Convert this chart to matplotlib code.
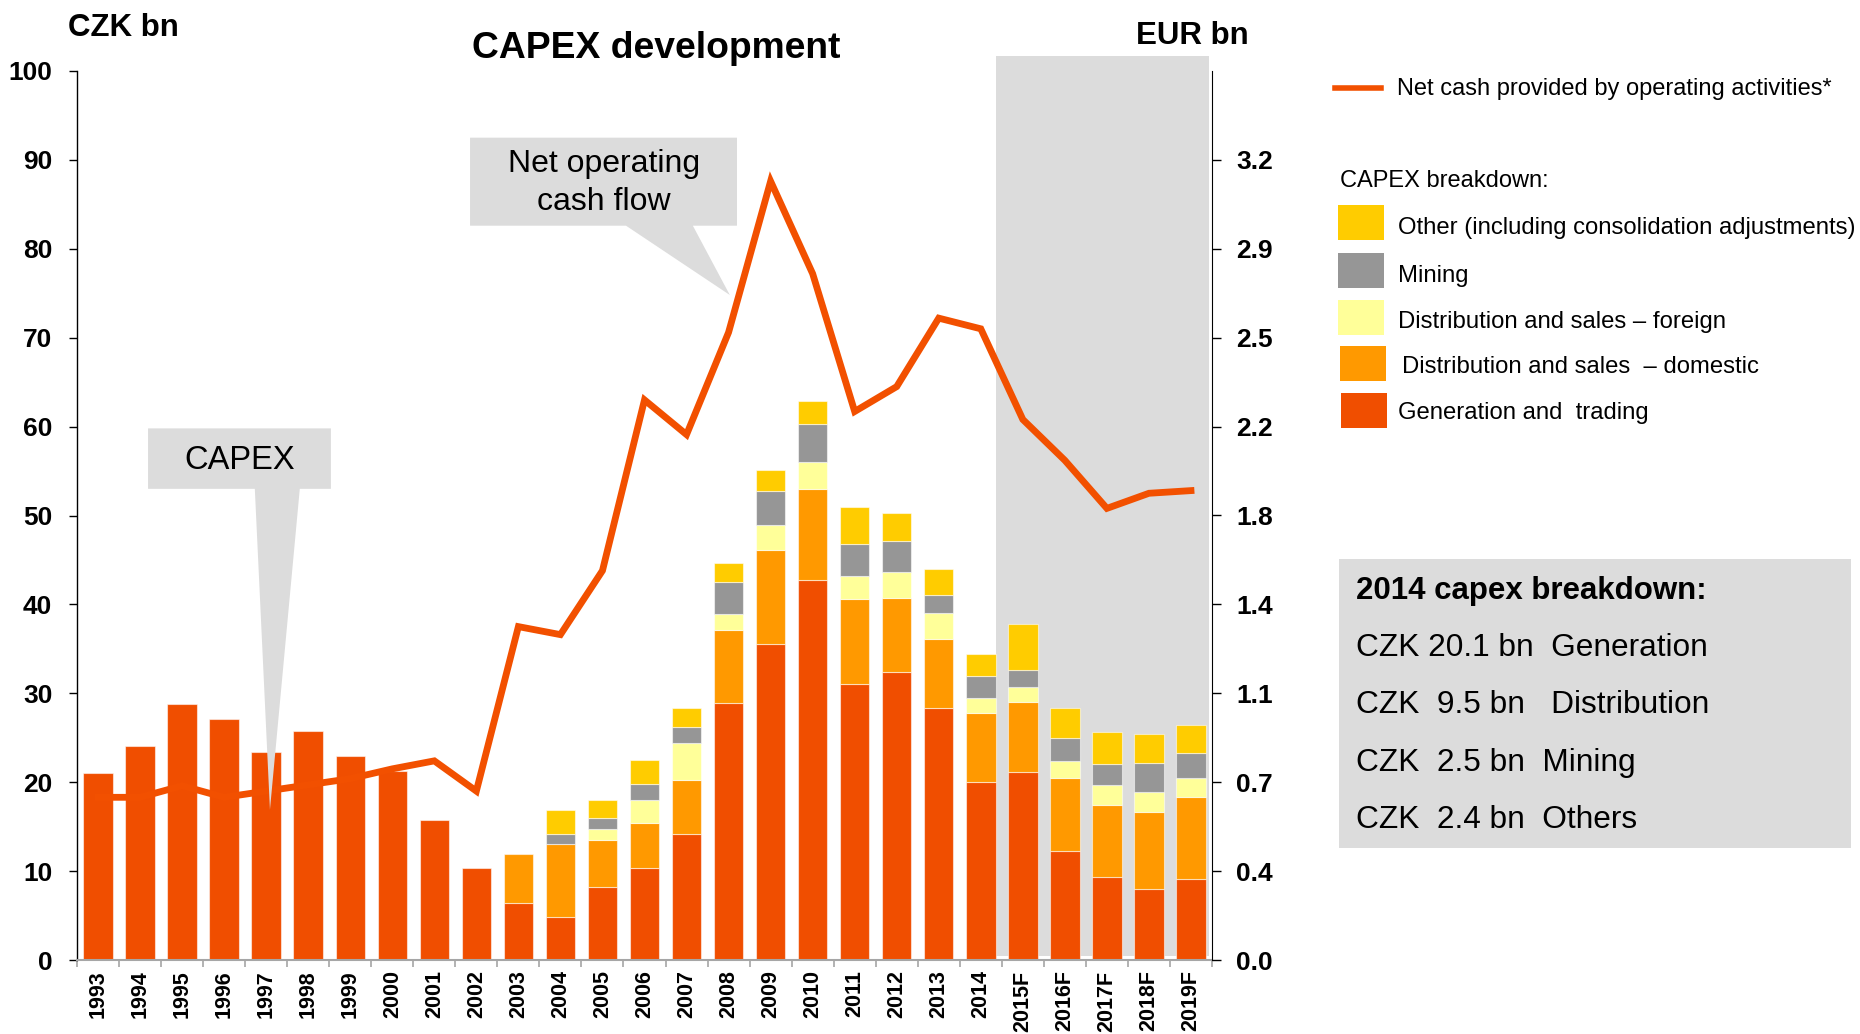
import numpy as np
import matplotlib
matplotlib.use("Agg")
import matplotlib.pyplot as plt
from matplotlib.patches import Polygon, Rectangle
from matplotlib.lines import Line2D

plt.rcParams['font.family'] = ['Liberation Sans', 'DejaVu Sans']

# ---------------- data ----------------
years = ['1993', '1994', '1995', '1996', '1997', '1998', '1999', '2000', '2001', '2002',
         '2003', '2004', '2005', '2006', '2007', '2008', '2009', '2010', '2011', '2012',
         '2013', '2014', '2015F', '2016F', '2017F', '2018F', '2019F']
generation = [21.0, 24.1, 28.8, 27.1, 23.4, 25.8, 23.0, 21.3, 15.7, 10.4,
              6.4, 4.8, 8.2, 10.4, 14.2, 28.9, 35.6, 42.7, 31.0, 32.4,
              28.4, 20.0, 21.1, 12.3, 9.3, 8.0, 9.1]
dist_domestic = [0, 0, 0, 0, 0, 0, 0, 0, 0, 0,
                 5.5, 8.3, 5.3, 5.0, 6.1, 8.2, 10.5, 10.3, 9.6, 8.3,
                 7.7, 7.8, 7.9, 8.2, 8.1, 8.7, 9.2]
dist_foreign = [0, 0, 0, 0, 0, 0, 0, 0, 0, 0,
                0, 0, 1.2, 2.6, 4.1, 1.8, 2.8, 3.0, 2.6, 3.0,
                2.9, 1.7, 1.7, 1.9, 2.3, 2.2, 2.2]
mining = [0, 0, 0, 0, 0, 0, 0, 0, 0, 0,
          0, 1.1, 1.3, 1.8, 1.8, 3.6, 3.9, 4.3, 3.6, 3.4,
          2.1, 2.5, 1.9, 2.6, 2.4, 3.3, 2.8]
other = [0, 0, 0, 0, 0, 0, 0, 0, 0, 0,
         0, 2.7, 2.0, 2.7, 2.1, 2.2, 2.3, 2.6, 4.2, 3.2,
         2.9, 2.4, 5.2, 3.3, 3.5, 3.2, 3.1]
net_cash = [18.3, 18.3, 19.6, 18.3, 19.0, 19.7, 20.4, 21.5, 22.4, 19.0,
            37.5, 36.6, 43.8, 63.0, 59.1, 70.6, 87.6, 77.2, 61.7, 64.5,
            72.2, 71.0, 60.8, 56.2, 50.8, 52.5, 52.8]
EUR_RATE = 27.7
left_ticks = list(range(0, 101, 10))
right_ticks = list(range(0, 91, 10))

series_names = ['Generation and  trading', 'Distribution and sales  \u2013 domestic',
                'Distribution and sales \u2013 foreign', 'Mining',
                'Other (including consolidation adjustments)']
series_vals = [generation, dist_domestic, dist_foreign, mining, other]
series_colors = ['#F04E00', '#FF9900', '#FFFF99', '#969696', '#FFCC00']
line_color = '#F25000'
shade = '#DCDCDC'

box_title = '2014 capex breakdown:'
box_lines = ['CZK 20.1 bn  Generation', 'CZK  9.5 bn   Distribution',
             'CZK  2.5 bn  Mining', 'CZK  2.4 bn  Others']

# ---------------- figure ----------------
W, H = 1860, 1034
fig = plt.figure(figsize=(W / 100, H / 100), dpi=100)


def fx(px):
    return px / W


def fy(py):
    return 1 - py / H


ax = fig.add_axes([fx(77), fy(960), (1212 - 77) / W, (960 - 71) / H])
x = np.arange(len(years))
ax.set_xlim(-0.5, len(years) - 0.5)
ax.set_ylim(0, 100)

# forecast shading
ax.add_patch(Rectangle((21.35, 0.4), 26.42 - 21.35, 101.7 - 0.4, facecolor=shade,
                       edgecolor='none', zorder=0.5, clip_on=False))

# stacked bars
bottom = np.zeros(len(years))
for vals, col in zip(series_vals, series_colors):
    v = np.array(vals, dtype=float)
    m = v > 0
    ax.bar(x[m], v[m], width=0.7, bottom=bottom[m], color=col,
           edgecolor=(1, 1, 1, 0.55), linewidth=0.8, zorder=2)
    bottom += v

# net cash line
ax.plot(x, net_cash, color=line_color, lw=4.9, zorder=3, solid_joinstyle='miter')

# axes styling
for s in ['top', 'right']:
    ax.spines[s].set_visible(False)
ax.spines['left'].set_color('black')
ax.spines['left'].set_linewidth(1.0)
ax.spines['bottom'].set_color('#A6A6A6')
ax.spines['bottom'].set_linewidth(1.5)
ax.spines['bottom'].set_zorder(4)

ax.set_yticks(left_ticks, [str(t) for t in left_ticks], fontsize=19, fontweight='bold')
ax.tick_params(axis='y', length=5.8, width=1.0, pad=12, direction='out')
ax.set_xticks(x, years, rotation=90, fontsize=15.5, fontweight='bold')
ax.tick_params(axis='x', which='major', length=0, pad=7.5)
ax.set_xticks(np.arange(-0.5, len(years), 1), minor=True)
ax.tick_params(axis='x', which='minor', length=5, width=1.2, color='#A6A6A6')

ax2 = ax.twinx()
ax2.set_ylim(0, 100)
ax2.set_yticks(right_ticks, [f"{t / EUR_RATE:.1f}" for t in right_ticks],
               fontsize=19, fontweight='bold')
ax2.tick_params(axis='y', length=6.5, width=1.0, pad=11)
for s in ['top', 'left', 'bottom']:
    ax2.spines[s].set_visible(False)
ax2.spines['right'].set_color('black')

# callouts (in data coordinates)
capex_poly = [(1.19, 59.8), (5.54, 59.8), (5.54, 53.0), (4.80, 53.0), (4.09, 16.9),
              (3.73, 53.0), (1.19, 53.0)]
ax.add_patch(Polygon(capex_poly, closed=True, facecolor=shade, edgecolor='none',
                     zorder=5, clip_on=False))
ax.text(3.37, 56.2, 'CAPEX', fontsize=23.5, ha='center', va='center', zorder=6)

ncf_poly = [(8.85, 92.5), (15.20, 92.5), (15.20, 82.6), (14.15, 82.6), (15.03, 74.8),
            (12.56, 82.6), (8.85, 82.6)]
ax.add_patch(Polygon(ncf_poly, closed=True, facecolor=shade, edgecolor='none',
                     zorder=5, clip_on=False))
ax.text(12.03, 87.4, 'Net operating\ncash flow', fontsize=23, ha='center', va='center',
        linespacing=1.38, zorder=6)

# titles / axis units
fig.text(fx(68), fy(36), 'CZK bn', fontsize=22.5, fontweight='bold', ha='left', va='baseline')
fig.text(fx(656), fy(58), 'CAPEX development', fontsize=26.8, fontweight='bold',
         ha='center', va='baseline')
fig.text(fx(1136), fy(44), 'EUR bn', fontsize=22.5, fontweight='bold', ha='left', va='baseline')

# legend (manual)
fig.add_artist(Line2D([fx(1335), fx(1381)], [fy(88), fy(88)], color=line_color, lw=4))
fig.text(fx(1397), fy(95), 'Net cash provided by operating activities*', fontsize=17,
         ha='left', va='baseline')
fig.text(fx(1340), fy(187), 'CAPEX breakdown:', fontsize=17, ha='left', va='baseline')

leg_items = [  # (series index, patch x, patch top, text x, baseline)
    (4, 1338, 205, 1398, 234),
    (3, 1338, 253, 1398, 282),
    (2, 1338, 300, 1398, 328),
    (1, 1340, 346, 1402, 373),
    (0, 1341, 393, 1398, 419),
]
for idx, px, pt, tx, tb in leg_items:
    fig.add_artist(Rectangle((fx(px), fy(pt + 35)), 46 / W, 35 / H,
                             facecolor=series_colors[idx], edgecolor='none',
                             transform=fig.transFigure))
    fig.text(fx(tx), fy(tb), series_names[idx], fontsize=17.2, ha='left', va='baseline')

# 2014 breakdown box
fig.add_artist(Rectangle((fx(1339), fy(848)), (1851 - 1339) / W, (848 - 559) / H,
                         facecolor=shade, edgecolor='none', transform=fig.transFigure))
fig.text(fx(1356), fy(599), box_title, fontsize=22.5, fontweight='bold', ha='left', va='baseline')
for ln, b in zip(box_lines, [656, 713, 771, 828]):
    fig.text(fx(1356), fy(b), ln, fontsize=22.8, ha='left', va='baseline')

fig.savefig('out.png', dpi=100)
